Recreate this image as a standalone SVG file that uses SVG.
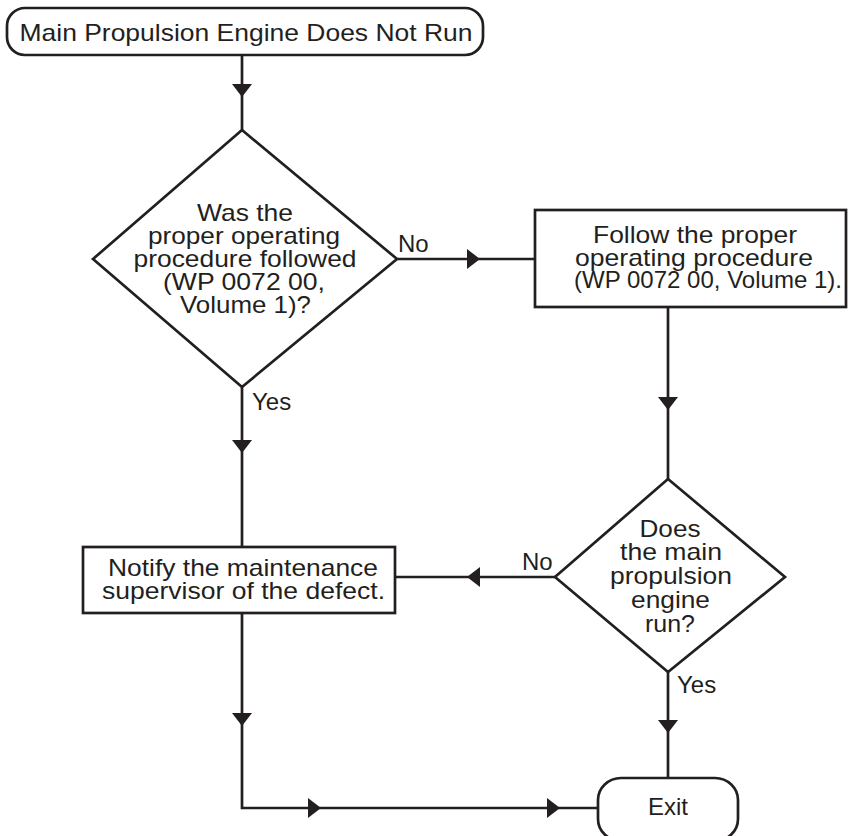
<svg xmlns="http://www.w3.org/2000/svg" xmlns:xlink="http://www.w3.org/1999/xlink" width="849" height="836" viewBox="0 0 849 836">
  <style>
    .shape { fill: #ffffff; stroke: #231f20; stroke-width: 2.7; }
    .wire { fill: none; stroke: #231f20; stroke-width: 2.7; }
    .body { font-family: "Liberation Sans", Arial, sans-serif; font-size: 24px; fill: #231f20; text-anchor: middle; }
    .label { font-family: "Liberation Sans", Arial, sans-serif; font-size: 24px; fill: #231f20; }
    .head { fill: #231f20; }
  </style>
  <defs>
    <!-- filled arrowhead, tip at origin, pointing along +x -->
    <path id="arrow" class="head" d="M0,0 L-13,-10 L-13,10 Z"/>
  </defs>

  <rect width="849" height="836" fill="#ffffff"/>

  <!-- connectors -->
  <g id="connectors">
    <path class="wire" d="M242,55 V130"/>
    <path class="wire" d="M397,259 H535"/>
    <path class="wire" d="M242,387 V547"/>
    <path class="wire" d="M668,307 V479"/>
    <path class="wire" d="M555,577 H395"/>
    <path class="wire" d="M242,613 V808 H598"/>
    <path class="wire" d="M668,672 V778"/>

    <use xlink:href="#arrow" transform="translate(242,97) rotate(90)"/>
    <use xlink:href="#arrow" transform="translate(480,259)"/>
    <use xlink:href="#arrow" transform="translate(242,453) rotate(90)"/>
    <use xlink:href="#arrow" transform="translate(668,410) rotate(90)"/>
    <use xlink:href="#arrow" transform="translate(467,577) rotate(180)"/>
    <use xlink:href="#arrow" transform="translate(242,726) rotate(90)"/>
    <use xlink:href="#arrow" transform="translate(668,733) rotate(90)"/>
    <use xlink:href="#arrow" transform="translate(321,808)"/>
    <use xlink:href="#arrow" transform="translate(560,808)"/>

    <text class="label" x="398" y="252">No</text>
    <text class="label" x="252" y="410">Yes</text>
    <text class="label" x="522" y="570">No</text>
    <text class="label" x="677" y="693">Yes</text>
  </g>

  <!-- start terminator -->
  <g id="start">
    <rect class="shape" x="7" y="8" width="476" height="47" rx="18" ry="18"/>
    <text class="body" x="246" y="41" textLength="453" lengthAdjust="spacingAndGlyphs">Main Propulsion Engine Does Not Run</text>
  </g>

  <!-- decision: procedure followed -->
  <g id="check-procedure">
    <polygon class="shape" points="242,130 397,259 242,387 93,259"/>
    <text class="body" x="245" y="221" textLength="96" lengthAdjust="spacingAndGlyphs">Was the</text>
    <text class="body" x="244" y="244" textLength="192" lengthAdjust="spacingAndGlyphs">proper operating</text>
    <text class="body" x="245" y="267" textLength="223" lengthAdjust="spacingAndGlyphs">procedure followed</text>
    <text class="body" x="244" y="290" textLength="162" lengthAdjust="spacingAndGlyphs">(WP 0072 00,</text>
    <text class="body" x="245.5" y="313" textLength="131" lengthAdjust="spacingAndGlyphs">Volume 1)?</text>
  </g>

  <!-- action: follow procedure -->
  <g id="follow-procedure">
    <rect class="shape" x="535" y="210" width="311" height="97"/>
    <text class="body" x="695" y="243" textLength="204" lengthAdjust="spacingAndGlyphs">Follow the proper</text>
    <text class="body" x="694" y="266" textLength="238" lengthAdjust="spacingAndGlyphs">operating procedure</text>
    <text class="body" x="708" y="288" textLength="268" lengthAdjust="spacingAndGlyphs">(WP 0072 00, Volume 1).</text>
  </g>

  <!-- decision: engine runs -->
  <g id="check-engine">
    <polygon class="shape" points="668,479 785,577 668,672 555,577"/>
    <text class="body" x="670" y="537" textLength="61" lengthAdjust="spacingAndGlyphs">Does</text>
    <text class="body" x="671" y="560" textLength="102" lengthAdjust="spacingAndGlyphs">the main</text>
    <text class="body" x="671" y="584" textLength="122" lengthAdjust="spacingAndGlyphs">propulsion</text>
    <text class="body" x="670.5" y="608" textLength="79" lengthAdjust="spacingAndGlyphs">engine</text>
    <text class="body" x="670" y="632" textLength="50" lengthAdjust="spacingAndGlyphs">run?</text>
  </g>

  <!-- action: notify supervisor -->
  <g id="notify-supervisor">
    <rect class="shape" x="83" y="547" width="312" height="66"/>
    <text class="body" x="243" y="576" textLength="270" lengthAdjust="spacingAndGlyphs">Notify the maintenance</text>
    <text class="body" x="243.5" y="599" textLength="283" lengthAdjust="spacingAndGlyphs">supervisor of the defect.</text>
  </g>

  <!-- end terminator -->
  <g id="exit">
    <rect class="shape" x="598" y="778" width="140" height="63" rx="23" ry="22"/>
    <text class="body" x="668" y="815">Exit</text>
  </g>
</svg>
